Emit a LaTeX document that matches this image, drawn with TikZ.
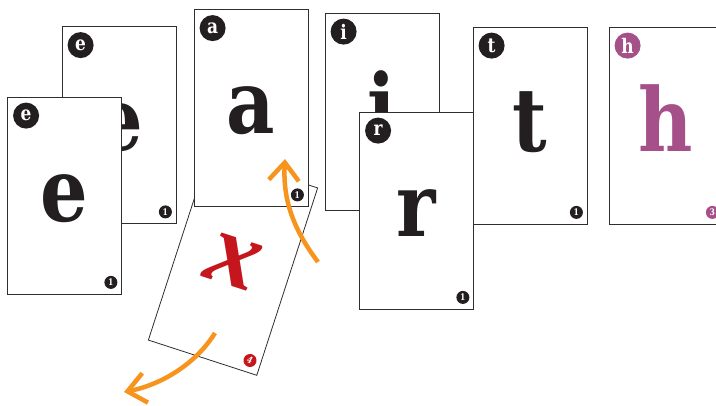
\documentclass[tikz,border=0pt]{standalone}
\usepackage{fontspec}
\newfontfamily\cardfont{DejaVu Serif}[FakeStretch=0.85]
\newfontfamily\crossfont{Liberation Serif}
\usetikzlibrary{arrows.meta}
\definecolor{ink}{HTML}{231F20}
\definecolor{edge}{HTML}{2E2E2E}
\definecolor{cardred}{HTML}{C4161C}
\definecolor{cardplum}{HTML}{A6508A}
\definecolor{swing}{HTML}{F7941D}
\begin{document}
\begin{tikzpicture}[x=1pt,y=-1pt,
  card/.style={draw=edge,line width=0.8pt,fill=white,minimum width=114pt,minimum height=197pt,inner sep=0pt},
  big/.style={anchor=base,inner sep=0pt,font=\cardfont\bfseries\fontsize{88}{88}\selectfont},
  tag/.style={circle,fill=#1,text=white,minimum size=26pt,inner sep=0pt,font=\cardfont\bfseries\fontsize{20}{20}\selectfont},
  num/.style={circle,fill=#1,text=white,minimum size=13pt,inner sep=0pt,font=\cardfont\bfseries\fontsize{9}{9}\selectfont},
  turn/.style={draw=swing,line width=4.5pt,-{Straight Barb[length=18pt,width=30pt]}}]
\clip (0,0) rectangle (716,405);
\begin{scope}[shift={(233,264)},rotate=-18]
  \node[card,transform shape] (x) at (0,0) {};
  \node[big,text=cardred,transform shape,font=\crossfont\bfseries\itshape\fontsize{104}{104}\selectfont] (x-big) at (0,22) {x};
  \node[num=cardred,transform shape] (x-num) at (46,86.5) {\itshape 4};
\end{scope}
\foreach \n/\cx/\cy/\l/\col/\k in %
{e1/119/125/e/ink/1,e2/64.5/195.5/e/ink/1,a/251/108/a/ink/1,i/382/111.5/i/ink/1,%
 r/416.5/210.5/r/ink/1,t/530/125.5/t/ink/1,h/666/125.5/h/cardplum/3} {
   \node[card] (\n) at (\cx,\cy) {};
   \node[big,text=\col] (\n-big) at ([yshift=73pt]\n.south) {\l};
   \node[tag=\col] (\n-tag) at ([shift={(19,19)}]\n.north west) {\l};
   \node[num=\col] (\n-num) at ([shift={(-11,-12)}]\n.south east) {\k};
}
\coordinate (up-from) at (318,262);
\coordinate (up-to) at (285,159);
\coordinate (out-from) at (215,333);
\coordinate (out-to) at (124,392);
\draw[turn] (up-from) .. controls (290,225) and (283,195) .. (up-to);
\draw[turn] (out-from) .. controls (195,365) and (160,385) .. (out-to);
\end{tikzpicture}
\end{document}
